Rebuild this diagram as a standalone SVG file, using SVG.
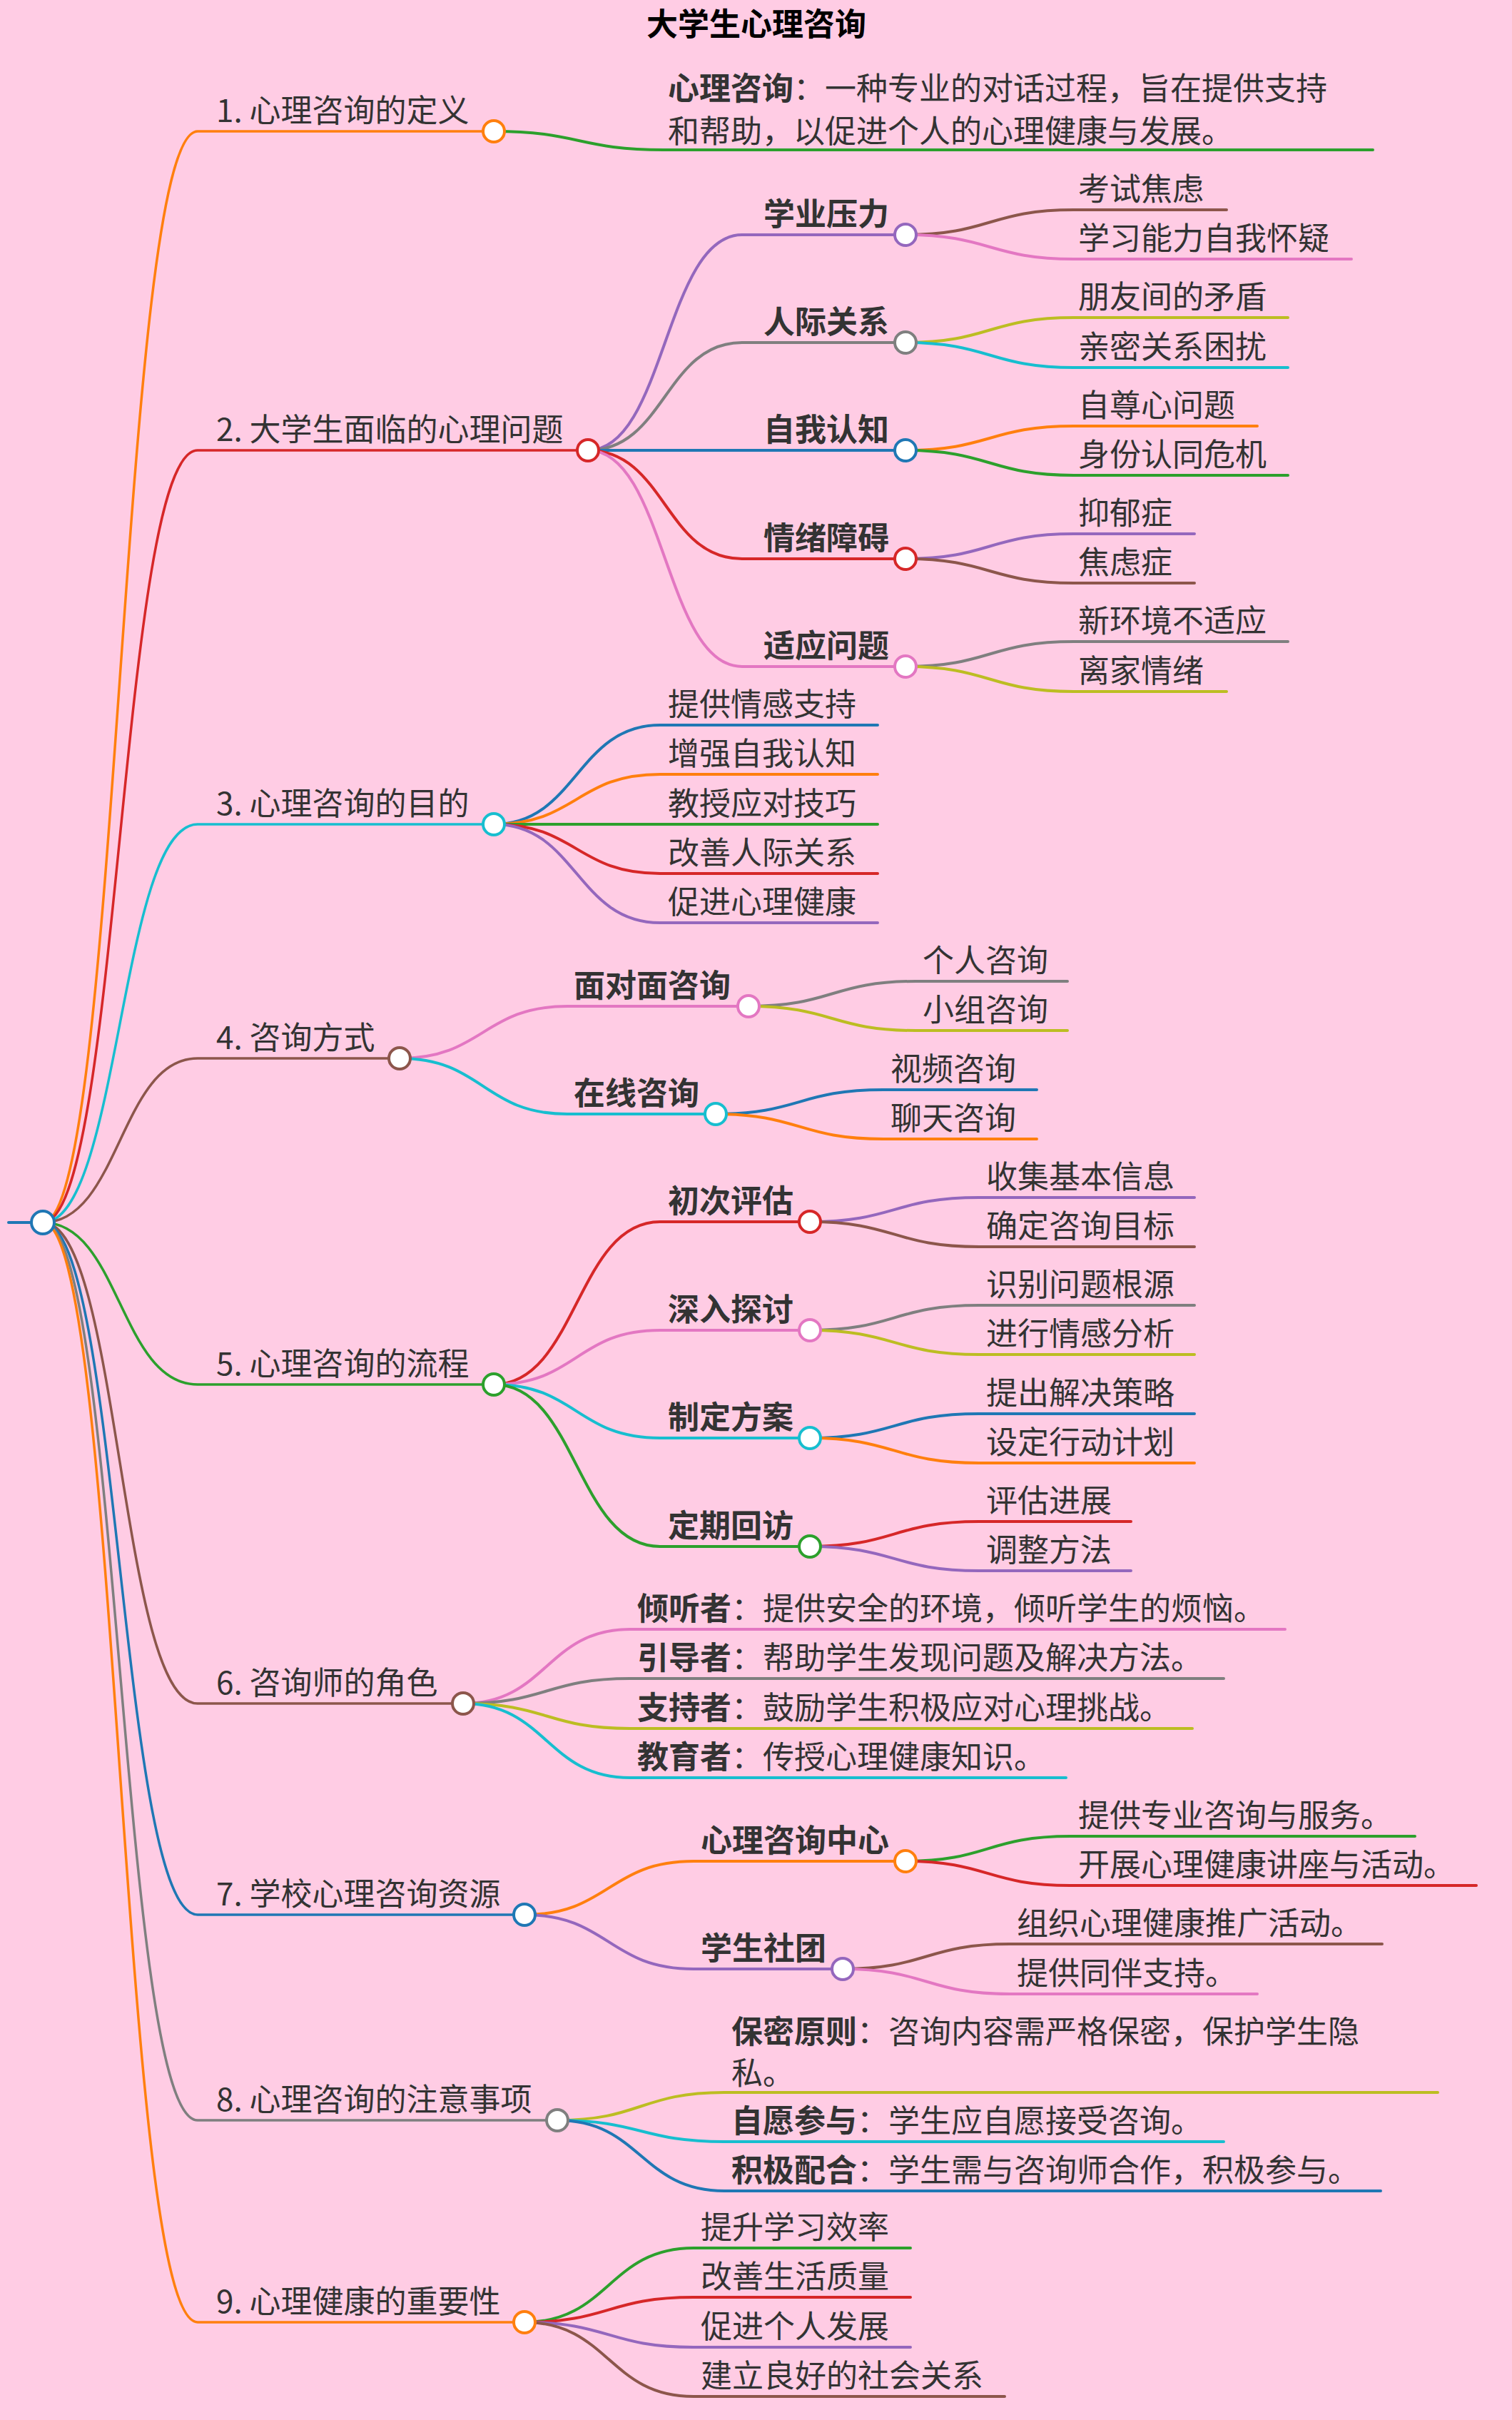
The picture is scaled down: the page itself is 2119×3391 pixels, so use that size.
<svg xmlns="http://www.w3.org/2000/svg" width="2119" height="3391" viewBox="0 0 2119 3391">
<style>
text{font-family:"Noto Sans CJK SC","Noto Sans",sans-serif;font-size:44px;fill:#333}
.b{font-weight:bold}
.t{font-size:44px;font-weight:bold;fill:#000}
path{fill:none;stroke-width:4;stroke-linecap:round}
.l1{stroke-width:3.5}
circle{fill:#fff;stroke-width:4}
</style>
<rect width="2119" height="3391" fill="#ffcce4"/>
<text class="t" x="1060" y="50" text-anchor="middle">大学生心理咨询</text>
<g id="connectors">
<path d="M12 1713H44" stroke="#1f77b4" stroke-width="6"/>
<path class="l1" d="M60 1713C168 1713 168 184 277 184H692" stroke="#ff7f0e"/>
<path class="l1" d="M60 1713C168 1713 168 631 277 631H824" stroke="#d62728"/>
<path class="l1" d="M60 1713C168 1713 168 1155 277 1155H692" stroke="#17becf"/>
<path class="l1" d="M60 1713C168 1713 168 1483 277 1483H560" stroke="#8c564b"/>
<path class="l1" d="M60 1713C168 1713 168 1940 277 1940H692" stroke="#2ca02c"/>
<path class="l1" d="M60 1713C168 1713 168 2387 277 2387H649" stroke="#8c564b"/>
<path class="l1" d="M60 1713C168 1713 168 2683 277 2683H735" stroke="#1f77b4"/>
<path class="l1" d="M60 1713C168 1713 168 2971 277 2971H781" stroke="#7f7f7f"/>
<path class="l1" d="M60 1713C168 1713 168 3254 277 3254H735" stroke="#ff7f0e"/>
<path d="M692 184C811 184 811 210 930 210H1924" stroke="#2ca02c"/>
<path d="M824 631C932 631 932 329 1040 329H1269" stroke="#9467bd"/>
<path d="M824 631C932 631 932 480 1040 480H1269" stroke="#7f7f7f"/>
<path d="M824 631C932 631 932 631 1040 631H1269" stroke="#1f77b4"/>
<path d="M824 631C932 631 932 783 1040 783H1269" stroke="#d62728"/>
<path d="M824 631C932 631 932 934 1040 934H1269" stroke="#e377c2"/>
<path d="M1269 329C1387 329 1387 294 1505 294H1719" stroke="#8c564b"/>
<path d="M1269 329C1387 329 1387 363 1505 363H1894" stroke="#e377c2"/>
<path d="M1269 480C1387 480 1387 445 1505 445H1805" stroke="#bcbd22"/>
<path d="M1269 480C1387 480 1387 515 1505 515H1805" stroke="#17becf"/>
<path d="M1269 631C1387 631 1387 597 1505 597H1762" stroke="#ff7f0e"/>
<path d="M1269 631C1387 631 1387 666 1505 666H1805" stroke="#2ca02c"/>
<path d="M1269 783C1387 783 1387 748 1505 748H1674" stroke="#9467bd"/>
<path d="M1269 783C1387 783 1387 817 1505 817H1674" stroke="#8c564b"/>
<path d="M1269 934C1387 934 1387 899 1505 899H1805" stroke="#7f7f7f"/>
<path d="M1269 934C1387 934 1387 969 1505 969H1719" stroke="#bcbd22"/>
<path d="M692 1155C808 1155 808 1016 925 1016H1230" stroke="#1f77b4"/>
<path d="M692 1155C808 1155 808 1085 925 1085H1230" stroke="#ff7f0e"/>
<path d="M692 1155C808 1155 808 1155 925 1155H1230" stroke="#2ca02c"/>
<path d="M692 1155C808 1155 808 1224 925 1224H1230" stroke="#d62728"/>
<path d="M692 1155C808 1155 808 1293 925 1293H1230" stroke="#9467bd"/>
<path d="M560 1483C677 1483 677 1410 795 1410H1049" stroke="#e377c2"/>
<path d="M560 1483C677 1483 677 1561 795 1561H1003" stroke="#17becf"/>
<path d="M1049 1410C1166 1410 1166 1375 1283 1375H1496" stroke="#7f7f7f"/>
<path d="M1049 1410C1166 1410 1166 1444 1283 1444H1496" stroke="#bcbd22"/>
<path d="M1003 1561C1120 1561 1120 1527 1238 1527H1453" stroke="#1f77b4"/>
<path d="M1003 1561C1120 1561 1120 1596 1238 1596H1453" stroke="#ff7f0e"/>
<path d="M692 1940C808 1940 808 1712 925 1712H1135" stroke="#d62728"/>
<path d="M692 1940C808 1940 808 1864 925 1864H1135" stroke="#e377c2"/>
<path d="M692 1940C808 1940 808 2015 925 2015H1135" stroke="#17becf"/>
<path d="M692 1940C808 1940 808 2167 925 2167H1135" stroke="#2ca02c"/>
<path d="M1135 1712C1253 1712 1253 1678 1372 1678H1674" stroke="#9467bd"/>
<path d="M1135 1712C1253 1712 1253 1747 1372 1747H1674" stroke="#8c564b"/>
<path d="M1135 1864C1253 1864 1253 1829 1372 1829H1674" stroke="#7f7f7f"/>
<path d="M1135 1864C1253 1864 1253 1898 1372 1898H1674" stroke="#bcbd22"/>
<path d="M1135 2015C1253 2015 1253 1981 1372 1981H1674" stroke="#1f77b4"/>
<path d="M1135 2015C1253 2015 1253 2050 1372 2050H1674" stroke="#ff7f0e"/>
<path d="M1135 2167C1253 2167 1253 2132 1372 2132H1585" stroke="#d62728"/>
<path d="M1135 2167C1253 2167 1253 2201 1372 2201H1585" stroke="#9467bd"/>
<path d="M649 2387C766 2387 766 2283 883 2283H1801" stroke="#e377c2"/>
<path d="M649 2387C766 2387 766 2352 883 2352H1715" stroke="#7f7f7f"/>
<path d="M649 2387C766 2387 766 2422 883 2422H1671" stroke="#bcbd22"/>
<path d="M649 2387C766 2387 766 2491 883 2491H1494" stroke="#17becf"/>
<path d="M735 2683C853 2683 853 2608 972 2608H1269" stroke="#ff7f0e"/>
<path d="M735 2683C853 2683 853 2759 972 2759H1181" stroke="#9467bd"/>
<path d="M1269 2608C1384 2608 1384 2573 1500 2573H1983" stroke="#2ca02c"/>
<path d="M1269 2608C1384 2608 1384 2642 1500 2642H2069" stroke="#d62728"/>
<path d="M1181 2759C1298 2759 1298 2724 1415 2724H1937" stroke="#8c564b"/>
<path d="M1181 2759C1298 2759 1298 2794 1415 2794H1762" stroke="#e377c2"/>
<path d="M781 2971C898 2971 898 2932 1015 2932H2015" stroke="#bcbd22"/>
<path d="M781 2971C898 2971 898 3001 1015 3001H1715" stroke="#17becf"/>
<path d="M781 2971C898 2971 898 3070 1015 3070H1935" stroke="#1f77b4"/>
<path d="M735 3254C853 3254 853 3150 972 3150H1276" stroke="#2ca02c"/>
<path d="M735 3254C853 3254 853 3219 972 3219H1276" stroke="#d62728"/>
<path d="M735 3254C853 3254 853 3289 972 3289H1276" stroke="#9467bd"/>
<path d="M735 3254C853 3254 853 3358 972 3358H1408" stroke="#8c564b"/>
</g>
<g id="root"><circle cx="60" cy="1713" r="16" stroke="#1f77b4"/></g>
<g id="n1"><text x="303" y="171">1. 心理咨询的定义</text><circle cx="692" cy="184" r="15" stroke="#ff7f0e"/></g>
<g id="n1a"><text x="936" y="140"><tspan class="b">心理咨询</tspan>：一种专业的对话过程，旨在提供支持</text><text x="936" y="200">和帮助，以促进个人的心理健康与发展。</text></g>
<g id="n2"><text x="303" y="618">2. 大学生面临的心理问题</text><circle cx="824" cy="631" r="15" stroke="#d62728"/></g>
<g id="n2a"><text class="b" x="1070" y="316">学业压力</text><circle cx="1269" cy="329" r="15" stroke="#9467bd"/></g>
<g id="n2b"><text class="b" x="1070" y="467">人际关系</text><circle cx="1269" cy="480" r="15" stroke="#7f7f7f"/></g>
<g id="n2c"><text class="b" x="1070" y="618">自我认知</text><circle cx="1269" cy="631" r="15" stroke="#1f77b4"/></g>
<g id="n2d"><text class="b" x="1070" y="770">情绪障碍</text><circle cx="1269" cy="783" r="15" stroke="#d62728"/></g>
<g id="n2e"><text class="b" x="1070" y="921">适应问题</text><circle cx="1269" cy="934" r="15" stroke="#e377c2"/></g>
<g id="n2leaves">
<text x="1511" y="281">考试焦虑</text><text x="1511" y="350">学习能力自我怀疑</text>
<text x="1511" y="432">朋友间的矛盾</text><text x="1511" y="502">亲密关系困扰</text>
<text x="1511" y="584">自尊心问题</text><text x="1511" y="653">身份认同危机</text>
<text x="1511" y="735">抑郁症</text><text x="1511" y="804">焦虑症</text>
<text x="1511" y="886">新环境不适应</text><text x="1511" y="956">离家情绪</text>
</g>
<g id="n3"><text x="303" y="1142">3. 心理咨询的目的</text><circle cx="692" cy="1155" r="15" stroke="#17becf"/></g>
<g id="n3leaves">
<text x="936" y="1003">提供情感支持</text><text x="936" y="1072">增强自我认知</text><text x="936" y="1142">教授应对技巧</text><text x="936" y="1211">改善人际关系</text><text x="936" y="1280">促进心理健康</text>
</g>
<g id="n4"><text x="303" y="1470">4. 咨询方式</text><circle cx="560" cy="1483" r="15" stroke="#8c564b"/></g>
<g id="n4a"><text class="b" x="804" y="1397">面对面咨询</text><circle cx="1049" cy="1410" r="15" stroke="#e377c2"/></g>
<g id="n4b"><text class="b" x="804" y="1548">在线咨询</text><circle cx="1003" cy="1561" r="15" stroke="#17becf"/></g>
<g id="n4leaves">
<text x="1293" y="1362">个人咨询</text><text x="1293" y="1431">小组咨询</text><text x="1248" y="1514">视频咨询</text><text x="1248" y="1583">聊天咨询</text>
</g>
<g id="n5"><text x="303" y="1927">5. 心理咨询的流程</text><circle cx="692" cy="1940" r="15" stroke="#2ca02c"/></g>
<g id="n5a"><text class="b" x="936" y="1699">初次评估</text><circle cx="1135" cy="1712" r="15" stroke="#d62728"/></g>
<g id="n5b"><text class="b" x="936" y="1851">深入探讨</text><circle cx="1135" cy="1864" r="15" stroke="#e377c2"/></g>
<g id="n5c"><text class="b" x="936" y="2002">制定方案</text><circle cx="1135" cy="2015" r="15" stroke="#17becf"/></g>
<g id="n5d"><text class="b" x="936" y="2154">定期回访</text><circle cx="1135" cy="2167" r="15" stroke="#2ca02c"/></g>
<g id="n5leaves">
<text x="1382" y="1665">收集基本信息</text><text x="1382" y="1734">确定咨询目标</text>
<text x="1382" y="1816">识别问题根源</text><text x="1382" y="1885">进行情感分析</text>
<text x="1382" y="1968">提出解决策略</text><text x="1382" y="2037">设定行动计划</text>
<text x="1382" y="2119">评估进展</text><text x="1382" y="2188">调整方法</text>
</g>
<g id="n6"><text x="303" y="2374">6. 咨询师的角色</text><circle cx="649" cy="2387" r="15" stroke="#8c564b"/></g>
<g id="n6leaves">
<text x="893" y="2270"><tspan class="b">倾听者</tspan>：提供安全的环境，倾听学生的烦恼。</text>
<text x="893" y="2339"><tspan class="b">引导者</tspan>：帮助学生发现问题及解决方法。</text>
<text x="893" y="2409"><tspan class="b">支持者</tspan>：鼓励学生积极应对心理挑战。</text>
<text x="893" y="2478"><tspan class="b">教育者</tspan>：传授心理健康知识。</text>
</g>
<g id="n7"><text x="303" y="2670">7. 学校心理咨询资源</text><circle cx="735" cy="2683" r="15" stroke="#1f77b4"/></g>
<g id="n7a"><text class="b" x="982" y="2595">心理咨询中心</text><circle cx="1269" cy="2608" r="15" stroke="#ff7f0e"/></g>
<g id="n7b"><text class="b" x="982" y="2746">学生社团</text><circle cx="1181" cy="2759" r="15" stroke="#9467bd"/></g>
<g id="n7leaves">
<text x="1511" y="2560">提供专业咨询与服务。</text><text x="1511" y="2629">开展心理健康讲座与活动。</text>
<text x="1425" y="2711">组织心理健康推广活动。</text><text x="1425" y="2781">提供同伴支持。</text>
</g>
<g id="n8"><text x="303" y="2958">8. 心理咨询的注意事项</text><circle cx="781" cy="2971" r="15" stroke="#7f7f7f"/></g>
<g id="n8leaves">
<text x="1025" y="2863"><tspan class="b">保密原则</tspan>：咨询内容需严格保密，保护学生隐</text><text x="1025" y="2921">私。</text>
<text x="1025" y="2988"><tspan class="b">自愿参与</tspan>：学生应自愿接受咨询。</text>
<text x="1025" y="3057"><tspan class="b">积极配合</tspan>：学生需与咨询师合作，积极参与。</text>
</g>
<g id="n9"><text x="303" y="3241">9. 心理健康的重要性</text><circle cx="735" cy="3254" r="15" stroke="#ff7f0e"/></g>
<g id="n9leaves">
<text x="982" y="3137">提升学习效率</text><text x="982" y="3206">改善生活质量</text><text x="982" y="3276">促进个人发展</text><text x="982" y="3345">建立良好的社会关系</text>
</g>
</svg>
